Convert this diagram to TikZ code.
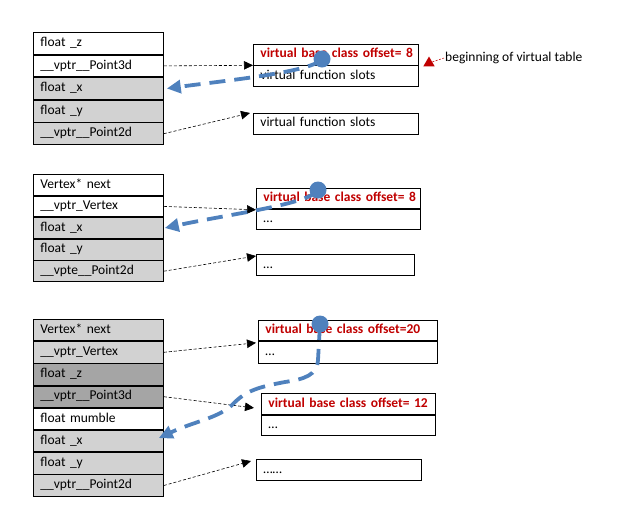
\documentclass[tikz,border=0pt]{standalone}
\usepackage{fontspec}
\setmainfont{Carlito}
\usetikzlibrary{arrows.meta,shapes.geometric}
\definecolor{lg}{RGB}{210,210,210}
\definecolor{dg}{RGB}{165,165,165}
\definecolor{vblue}{RGB}{79,129,189}
\definecolor{vred}{RGB}{192,0,0}
\begin{document}
\begin{tikzpicture}[x=1pt,y=-1pt,
  font=\fontsize{13.5}{16}\selectfont,
  cell/.style={draw, line width=0.8pt, anchor=north west, minimum width=130pt,
    text width=116pt, align=left, inner xsep=7pt, inner ysep=0pt,
    text height=9.5pt, text depth=3pt, minimum height=#1},
  cell/.default=21.8pt,
  vbox/.style={draw, line width=0.8pt, anchor=north west, align=left,
    inner xsep=7pt, inner ysep=0pt, text height=9.5pt, text depth=3pt,
    text width=#1, minimum height=20.5pt},
  redtxt/.style={text=vred, font=\fontsize{13.5}{16}\selectfont\bfseries},
  ptr/.style={line width=0.6pt, dash pattern=on 3pt off 2pt,
    -{Triangle[length=9pt,width=8.5pt]}},
  blueflow/.style={vblue, line width=3.8pt, dash pattern=on 16pt off 9pt,
    -{Triangle[length=14pt,width=13pt]}},
  dot/.style={circle, fill=vblue, minimum size=17pt, inner sep=0pt}]
\useasboundingbox (0,0) rectangle (620,520);
% ---------- top group ----------
\node[cell] (az) at (33,32) {float \_z};
\node[cell] (ap3) at (az.south west) {\_\_vptr\_\_Point3d};
\node[cell, fill=lg] (ax) at (ap3.south west) {float \_x};
\node[cell, fill=lg] (ay) at (ax.south west) {float \_y};
\node[cell, fill=lg] (ap2) at (ay.south west) {\_\_vptr\_\_Point2d};
\node[vbox=151pt, redtxt] (vt1a) at (253,44) {\mbox{virtual base class offset= 8}};
\node[vbox=151pt] (vt1b) at (vt1a.south west) {virtual function slots};
\node[vbox=151pt] (vt1c) at (253,113) {virtual function slots};
\node[regular polygon, regular polygon sides=3, fill=vred, inner sep=0pt,
  minimum size=13pt] (tri) at (429,63) {};
\node[anchor=west, inner sep=1pt] (beg) at (444,58) {beginning of virtual table};
\draw[vred, line width=0.5pt, dash pattern=on 2pt off 1.5pt] (tri) -- (beg.west);
\draw[ptr] (ap3.east) -- (vt1a.south west);
\draw[ptr] (ap2.east) -- ([xshift=-3pt]vt1c.north west);
\draw[blueflow] (322,59) .. controls (312,72) and (230,80) .. ([xshift=3pt]ax.east);
\node[dot] (c1) at (322,59) {};
% ---------- middle group ----------
\node[cell=20.8pt] (bn) at (33,174) {Vertex* next};
\node[cell=20.8pt] (bv) at (bn.south west) {\_\_vptr\_Vertex};
\node[cell=20.8pt, fill=lg] (bx) at (bv.south west) {float \_x};
\node[cell=20.8pt, fill=lg] (by) at (bx.south west) {float \_y};
\node[cell=20.8pt, fill=lg] (bp2) at (by.south west) {\_\_vpte\_\_Point2d};
\node[vbox=150pt, redtxt, minimum height=20pt] (vt2a) at (256,188) {\mbox{virtual base class offset= 8}};
\node[vbox=150pt, minimum height=20pt] (vt2b) at (vt2a.south west) {…};
\node[vbox=144pt, minimum height=21pt] (vt2c) at (256,254) {…};
\draw[ptr] (bv.east) -- ([yshift=-1pt]vt2a.south west);
\draw[ptr] (bp2.east) -- ([yshift=-2pt]vt2c.north west);
\draw[blueflow] (318,190) .. controls (310,204) and (230,214) .. ([xshift=1pt]bx.east);
\node[dot] (c2) at (318,190) {};
% ---------- bottom group ----------
\node[cell=21.4pt, fill=lg] (cn) at (33,319) {Vertex* next};
\node[cell=21.4pt, fill=lg] (cv) at (cn.south west) {\_\_vptr\_Vertex};
\node[cell=21.4pt, fill=dg] (cz) at (cv.south west) {float \_z};
\node[cell=21.4pt, fill=dg] (cp3) at (cz.south west) {\_\_vptr\_\_Point3d};
\node[cell=21.4pt] (cm) at (cp3.south west) {float mumble};
\node[cell=21.4pt, fill=lg] (cx) at (cm.south west) {float \_x};
\node[cell=21.4pt, fill=lg] (cy) at (cx.south west) {float \_y};
\node[cell=21.4pt, fill=lg] (cp2) at (cy.south west) {\_\_vptr\_\_Point2d};
\node[vbox=165pt, redtxt, minimum height=20pt] (vt3a) at (258,320) {\mbox{virtual base class offset=20}};
\node[vbox=165pt, minimum height=22pt] (vt3b) at (vt3a.south west) {…};
\node[vbox=160pt, redtxt, minimum height=21pt] (vt3c) at (261,393) {\mbox{virtual base class offset= 12}};
\node[vbox=160pt, minimum height=20pt] (vt3d) at (vt3c.south west) {…};
\node[vbox=151pt, minimum height=21pt] (vt3e) at (256,459) {……};
\draw[ptr] (cv.east) -- ([xshift=-2pt,yshift=-2pt]vt3a.south west);
\draw[ptr] (cp3.east) -- ([xshift=-7pt,yshift=-4pt]vt3c.west);
\draw[ptr] (cp2.east) -- ([xshift=-5pt,yshift=-2pt]vt3e.north west);
\draw[blueflow] (320,324) -- (318,360)
  .. controls (317,375) and (305,379) .. (285,382)
  .. controls (258,387) and (246,391) .. (234,403)
  .. controls (220,418) and (195,421) .. ([xshift=-5pt,yshift=3pt]cx.east);
\node[dot] (c3) at (320,324) {};
\end{tikzpicture}
\end{document}
